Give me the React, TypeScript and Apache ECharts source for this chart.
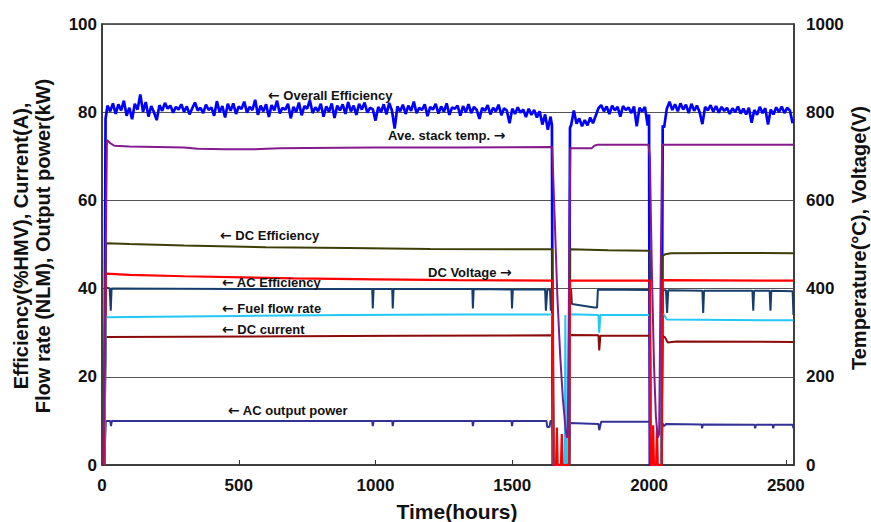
import React, { useEffect, useRef } from 'react';
import * as echarts from 'echarts';

const FONT = "'Liberation Sans', Arial, Helvetica, sans-serif";
const ARROW_FONT = "'DejaVu Sans', sans-serif";

// ---------- Overall Efficiency (%HMV), sampled every 10 h in three running periods ----------
const overallStep = 10;
const overallSeg1Start = 20;
const overallSeg1 = [
  81.5, 80.2, 82.0, 79.6, 81.8, 80.4, 82.6, 79.2, 81.0,
  78.4, 81.9, 80.6, 84.0, 80.1, 82.3, 79.0, 81.4, 80.0, 78.2,
  81.6, 80.3, 82.1, 80.8, 81.5, 79.9, 81.2, 80.6, 81.8, 80.1,
  81.3, 79.5, 80.9, 82.2, 80.4, 81.0, 79.8, 81.7, 80.5, 81.1,
  79.2, 82.5, 80.0, 81.4, 78.8, 81.9, 80.3, 82.0, 79.6, 81.3,
  80.7, 82.4, 79.9, 81.2, 80.5, 82.8, 79.4, 81.5, 80.2, 81.8,
  78.9, 81.6, 80.4, 82.6, 79.7, 81.0, 80.6, 81.9, 78.6, 81.2,
  80.0, 82.2, 79.3, 81.4, 80.8, 82.7, 79.8, 81.1, 80.2, 81.9,
  79.0, 81.3, 80.1, 82.0, 78.7, 81.5, 80.4, 81.8, 79.6, 82.3,
  80.2, 81.5, 79.4, 81.9, 80.6, 82.2, 79.9, 81.0, 80.7, 78.1,
  81.2, 80.0, 81.8, 79.5, 82.1, 80.4, 76.3, 81.3, 80.2, 81.7,
  79.6, 81.5, 80.3, 82.4, 79.8, 81.0, 80.5, 81.8, 79.1, 81.2,
  80.6, 81.9, 79.7, 81.3, 80.1, 82.0, 79.4, 81.1, 80.8, 81.5,
  79.2, 81.4, 80.0, 81.8, 79.8, 81.2, 80.5, 78.5, 81.0, 80.3,
  81.6, 79.5, 81.0, 80.2, 81.7, 79.3, 80.9, 80.4, 77.5, 80.8,
  79.6, 81.1, 79.9, 80.6, 78.9, 80.8, 79.4, 80.5, 78.8, 80.2,
  77.2, 79.5, 76.0, 79.0,
];
const overallSeg2Start = 1715;
const overallSeg2 = [
  77.0, 80.4, 77.4, 78.6, 76.8, 78.2, 77.0, 78.8, 77.5, 79.2,
  80.9, 81.6, 80.2, 81.3, 79.6, 81.5, 80.4, 81.2, 79.0, 81.4,
  80.5, 81.1, 79.8, 81.3, 76.8, 81.0, 80.2, 81.2, 77.0,
];
const overallSeg3Start = 2055;
const overallSeg3 = [
  76.5, 80.8, 82.4, 80.5, 81.8, 80.2, 82.0, 80.6, 81.7, 79.8,
  81.9, 80.3, 81.5, 80.0, 77.3, 81.2, 80.4, 81.6, 80.1, 81.4,
  79.9, 81.2, 80.3, 81.0, 79.6, 80.9, 80.0, 81.3, 79.7, 80.8,
  79.5, 81.0, 77.6, 80.5, 79.4, 81.2, 79.8, 80.9, 77.2, 80.6,
  79.5, 81.1, 80.0, 81.3, 79.8, 81.0, 80.4, 77.5,
];
const overallStartup = [[8, 0], [13, 78.5]];
const overallOutage1 = [[1645, 77.0], [1648, 0], [1707, 0], [1711, 76.5]];
const overallOutage2 = [[2000, 79.5], [2003, 0], [2045, 0], [2050, 77.0]];

// ---------- Ave. stack temp (°C, right axis) ----------
const stackTemp = [
  [5, 0], [18, 737], [30, 730], [45, 724], [100, 722], [200, 721], [300, 720], [350, 717],
  [450, 716], [550, 716], [650, 718], [750, 719], [1000, 720], [1300, 720], [1646, 721],
  [1655, 560], [1665, 380], [1675, 250], [1685, 150], [1695, 80], [1700, 62], [1703, 70],
  [1708, 450], [1712, 718], [1790, 718], [1800, 724], [1810, 726], [1998, 726], [2003, 700],
  [2010, 450], [2018, 230], [2025, 110], [2032, 62], [2037, 70], [2042, 400], [2048, 726],
  [2528, 726],
];

// ---------- DC Efficiency (%) ----------
const dcEfficiency = [
  [8, 0], [15, 50.3], [100, 50.1], [300, 49.8], [600, 49.4], [900, 49.2], [1200, 49.0],
  [1646, 48.9], [1650, 0], [1708, 0], [1712, 48.9], [1850, 48.7], [2002, 48.6], [2006, 0],
  [2046, 0], [2050, 47.4], [2060, 47.8], [2080, 48.0], [2300, 48.1], [2528, 48.0],
];

// ---------- AC Efficiency (%) ----------
const acEfficiency = [
  [6, 0], [14, 43.4], [100, 43.1], [300, 42.8], [700, 42.3], [1000, 42.1], [1300, 41.9],
  [1648, 41.8], [1651, 0], [1660, 0], [1663, 8.5], [1666, 0], [1678, 0], [1681, 7], [1684, 0],
  [1708, 0], [1711, 41.8], [2003, 41.8], [2006, 0], [2012, 0], [2015, 9], [2018, 0], [2026, 0],
  [2029, 8], [2032, 0], [2046, 0], [2049, 41.9], [2528, 41.8],
];

// ---------- DC Voltage (V, right axis) ----------
const dcVoltage = [
  [8, 0], [14, 402], [28, 401], [32, 350], [35, 400], [500, 399], [988, 399], [990, 355],
  [993, 399], [1061, 399], [1063, 355], [1066, 399], [1354, 399], [1356, 355], [1359, 399],
  [1497, 398], [1499, 355], [1502, 398], [1620, 398], [1623, 350], [1628, 398], [1638, 398],
  [1641, 350], [1645, 398], [1648, 398], [1651, 0], [1708, 0], [1711, 399], [1715, 399],
  [1718, 365], [1800, 357], [1810, 357], [1813, 398], [2003, 397], [2006, 0], [2047, 0],
  [2050, 396], [2062, 396], [2066, 345], [2070, 396], [2195, 395], [2198, 345], [2201, 395],
  [2378, 395], [2381, 350], [2384, 395], [2441, 395], [2444, 350], [2447, 395], [2525, 394],
  [2528, 340],
];

// ---------- Fuel flow rate (NLM) ----------
const fuelFlow = [
  [8, 0], [14, 33.5], [200, 33.6], [500, 33.8], [900, 34.0], [1300, 34.1], [1647, 34.1],
  [1651, 0], [1692, 0], [1694, 34], [1697, 0], [1708, 0], [1711, 34.2], [1815, 34.0],
  [1818, 30], [1822, 34], [2003, 34.0], [2008, 0], [2044, 0], [2047, 34.4], [2055, 34.0],
  [2065, 33.0], [2528, 32.8],
];

// ---------- DC current (A) ----------
const dcCurrent = [
  [8, 0], [14, 29.0], [300, 29.1], [700, 29.2], [1100, 29.3], [1647, 29.4], [1651, 0],
  [1708, 0], [1711, 29.5], [1815, 29.4], [1818, 26.0], [1822, 29.3], [2003, 29.3], [2007, 0],
  [2046, 0], [2049, 29.3], [2058, 29.0], [2068, 27.8], [2100, 28.0], [2528, 27.9],
];

// ---------- AC output power (kW) ----------
const acPower = [
  [8, 0], [14, 10.0], [30, 10.0], [33, 8.8], [36, 10.0], [988, 10.0], [990, 8.8], [993, 10],
  [1061, 10], [1063, 8.8], [1066, 10], [1354, 10], [1356, 8.8], [1359, 10], [1497, 10],
  [1499, 8.8], [1502, 10], [1625, 10], [1628, 8.6], [1636, 8.6], [1640, 10], [1647, 10],
  [1651, 0], [1708, 0], [1711, 9.5], [1815, 9.3], [1818, 7.9], [1825, 9.8], [2003, 9.8],
  [2007, 0], [2046, 0], [2049, 9.5], [2055, 8.8], [2062, 9.3], [2192, 9.2], [2194, 8.3],
  [2197, 9.2], [2386, 9.1], [2388, 8.3], [2391, 9.1], [2452, 9.1], [2454, 8.3], [2457, 9.1],
  [2525, 9.1], [2528, 8.3],
];

// ---------- annotation labels ----------
const annotations = [
  { text: '{a|\u2190} Overall Efficiency', x: 268, y: 95 },
  { text: 'Ave. stack temp. {a|\u2192}', x: 388, y: 135 },
  { text: '{a|\u2190} DC Efficiency', x: 220, y: 235 },
  { text: '{a|\u2190} AC Efficiency', x: 222, y: 282 },
  { text: 'DC Voltage {a|\u2192}', x: 428, y: 272 },
  { text: '{a|\u2190} Fuel flow rate', x: 222, y: 308 },
  { text: '{a|\u2190} DC current', x: 222, y: 329 },
  { text: '{a|\u2190} AC output power', x: 228, y: 410 },
];

function segment(start: number, values: number[]) {
  return values.map((v, i) => [start + i * overallStep, v]);
}

function buildOverall() {
  return [
    ...overallStartup,
    ...segment(overallSeg1Start, overallSeg1),
    ...overallOutage1,
    ...segment(overallSeg2Start, overallSeg2),
    ...overallOutage2,
    ...segment(overallSeg3Start, overallSeg3),
  ];
}

function line(name: string, data: number[][], color: string, width: number, yAxisIndex = 0) {
  return {
    name,
    type: 'line',
    data,
    yAxisIndex,
    symbol: 'none',
    showSymbol: false,
    lineStyle: { color, width },
    itemStyle: { color },
  };
}

const plain = (v: number) => String(v);
const labelStyle = { fontSize: 17, fontWeight: 'bold', fontFamily: FONT, color: '#111', formatter: plain };
const axisLineStyle = { show: true, lineStyle: { color: '#333', width: 1.5 } };

export default function App() {
  const ref = useRef<HTMLDivElement>(null);
  useEffect(() => {
    const chart = echarts.init(ref.current!, null, { renderer: 'svg' });
    const option = {
      animation: false,
      backgroundColor: '#fff',
      grid: {
        left: 102, right: 77, top: 24, bottom: 57,
        show: true, borderColor: '#333', borderWidth: 1.5, backgroundColor: 'transparent',
      },
      xAxis: {
        type: 'value', min: 0, max: 2530, interval: 500,
        axisLine: axisLineStyle,
        axisTick: { show: true, inside: true, length: 5, lineStyle: { color: '#333', width: 1 } },
        axisLabel: { ...labelStyle, margin: 12, showMaxLabel: false },
        splitLine: { show: false },
      },
      yAxis: [
        {
          type: 'value', min: 0, max: 100, interval: 20, position: 'left',
          axisLine: axisLineStyle, axisTick: { show: false },
          axisLabel: { ...labelStyle, margin: 5 },
          splitLine: { show: true, lineStyle: { color: '#555', width: 1 } },
        },
        {
          type: 'value', min: 0, max: 1000, interval: 200, position: 'right',
          axisLine: axisLineStyle, axisTick: { show: false },
          axisLabel: { ...labelStyle, margin: 12 },
          splitLine: { show: false },
        },
      ],
      series: [
        line('Overall Efficiency', buildOverall(), '#0000ff', 2.7),
        line('DC Efficiency', dcEfficiency, '#3d3d06', 2),
        line('DC Voltage', dcVoltage, '#173d6c', 2, 1),
        line('DC current', dcCurrent, '#8b0a0a', 2),
        line('AC output power', acPower, '#323296', 2),
        line('Fuel flow rate', fuelFlow, '#22c8f5', 2),
        line('AC Efficiency', acEfficiency, '#ff0000', 2.2),
        line('Ave. stack temp.', stackTemp, '#851a8f', 2, 1),
      ],
      graphic: [
        ...annotations.map((a) => ({
          type: 'text', x: a.x, y: a.y, z: 100,
          style: {
            text: a.text, fill: '#111', font: `bold 13px ${FONT}`,
            textAlign: 'left', textVerticalAlign: 'middle',
            rich: { a: { fontFamily: ARROW_FONT, fontSize: 14, fontWeight: 'bold', fill: '#111' } },
          },
        })),
        {
          type: 'text', x: 21, y: 246, rotation: Math.PI / 2,
          style: {
            text: 'Efficiency(%HMV), Current(A),', fill: '#111', font: `bold 20px ${FONT}`,
            textAlign: 'center', textVerticalAlign: 'middle',
          },
        },
        {
          type: 'text', x: 43, y: 246, rotation: Math.PI / 2,
          style: {
            text: 'Flow rate (NLM), Output power(kW)', fill: '#111', font: `bold 20px ${FONT}`,
            textAlign: 'center', textVerticalAlign: 'middle',
          },
        },
        {
          type: 'text', x: 859, y: 238, rotation: Math.PI / 2,
          style: {
            text: 'Temperature(\u00B0C), Voltage(V)', fill: '#111', font: `bold 20px ${FONT}`,
            textAlign: 'center', textVerticalAlign: 'middle',
          },
        },
        {
          type: 'text', x: 457, y: 511,
          style: {
            text: 'Time(hours)', fill: '#111', font: `bold 21px ${FONT}`,
            textAlign: 'center', textVerticalAlign: 'middle',
          },
        },
      ],
    };
    chart.setOption(option as any);
    return () => chart.dispose();
  }, []);
  return (
    <div
      ref={ref}
      style={{ position: 'absolute', left: 0, top: 0, width: 871, height: 522, background: '#fff' }}
    />
  );
}
